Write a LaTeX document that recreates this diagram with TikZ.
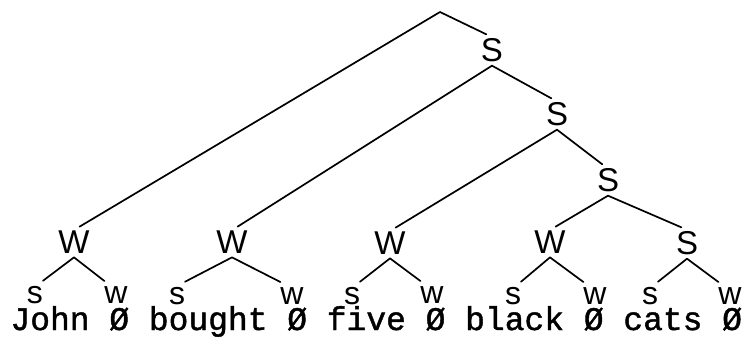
\documentclass[tikz,border=0pt]{standalone}
\usepackage{fontspec}
\newfontfamily\labfont{Liberation Sans}
\newfontfamily\txtfont{Liberation Mono}[FakeBold=1.3]
\begin{document}
\begin{tikzpicture}[x=1pt,y=-1pt,
  lab/.style={font={\labfont\fontsize{33}{33}\selectfont}, inner sep=0pt, outer xsep=0pt, outer ysep=4pt},
  sublab/.style={font={\labfont\fontsize{32}{32}\selectfont}, inner sep=0pt, outer xsep=0pt, outer ysep=5.5pt},
  edge/.style={line width=1.7pt, line cap=round, line join=round}]
\useasboundingbox (0,0) rectangle (742,338);
% upper spine
\coordinate (R) at (440,12);
\node[lab] (S1) at (492,50) {S};
\node[lab] (S2) at (557,114) {S};
\node[lab] (S3) at (608,180) {S};
% word-level nodes
\node[lab] (W1) at (74,242) {W};
\node[lab] (W2) at (232,242) {W};
\node[lab] (W3) at (390,243) {W};
\node[lab] (W4) at (550,242) {W};
\node[lab] (S4) at (687,243) {S};
% syllable-level nodes
\node[sublab] (a1) at (35,295) {s};
\node[sublab] (b1) at (116,295) {w};
\node[sublab] (a2) at (177,296) {s};
\node[sublab] (b2) at (292,296) {w};
\node[sublab] (a3) at (352,296) {s};
\node[sublab] (b3) at (432,295) {w};
\node[sublab] (a4) at (513,296) {s};
\node[sublab] (b4) at (595,296) {w};
\node[sublab] (a5) at (650,296) {s};
\node[sublab] (b5) at (730,296) {w};
% text
\node[font={\txtfont\fontsize{32.95}{33}\selectfont}, anchor=base west, inner sep=0pt] (txt) at (10.3,330) {John Ø bought Ø five Ø black Ø cats Ø};
% edges
\draw[edge] (W1.70) -- (R) -- (S1.110);
\draw[edge] (W2.70) -- (S1.south) -- (S2.110);
\draw[edge] (W3.70) -- (S2.south) -- (S3.110);
\draw[edge] (W4.70) -- (S3.south) -- (S4.110);
\draw[edge] (a1.north east) -- (W1.south) -- (b1.north west);
\draw[edge] (a2.north east) -- (W2.south) -- (b2.north west);
\draw[edge] (a3.north east) -- (W3.south) -- (b3.north west);
\draw[edge] (a4.north east) -- (W4.south) -- (b4.north west);
\draw[edge] (a5.north east) -- (S4.south) -- (b5.north west);
\end{tikzpicture}
\end{document}
